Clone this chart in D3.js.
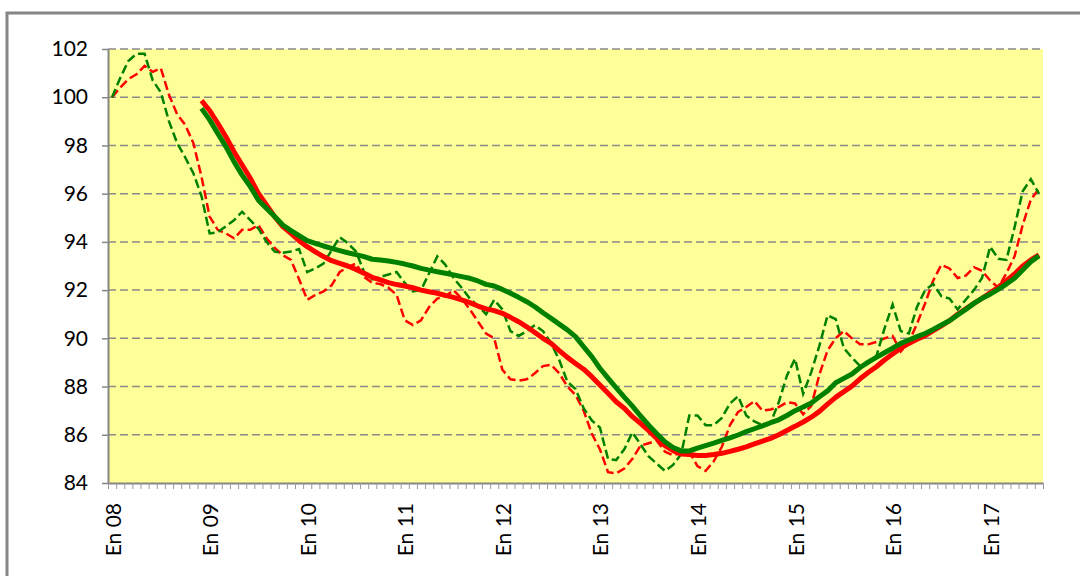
<!DOCTYPE html>
<html>
<head>
<meta charset="utf-8">
<script src="https://cdn.jsdelivr.net/npm/d3@7"></script>
<style>
body {margin:0; background:#ffffff;}
</style>
</head>
<body>
<div id="chart"></div>
<script>

// monthly index, En 08 .. Jul 17
var nMonths = 115;
var yearLabels = ["En 08","En 09","En 10","En 11","En 12","En 13","En 14","En 15","En 16","En 17"];
var yTicks = [84,86,88,90,92,94,96,98,100,102];

var greenDash = [100,100.8,101.5,101.8,101.8,100.7,100.2,99.0,98.1,97.5,96.85,95.9,
	94.35,94.4,94.65,94.9,95.25,94.9,94.55,94.0,93.6,93.55,93.6,93.7,
	92.75,92.9,93.1,93.65,94.2,93.95,93.6,92.75,92.45,92.55,92.65,92.75,
	92.3,91.95,92.0,92.7,93.4,93.05,92.5,92.1,91.65,91.35,91.0,91.6,
	91.2,90.3,90.1,90.3,90.55,90.3,89.8,89.1,88.2,87.9,87.1,86.6,
	86.3,85.0,84.95,85.4,86.1,85.6,85.1,84.8,84.5,84.75,85.2,86.8,
	86.8,86.4,86.4,86.7,87.3,87.6,86.8,86.55,86.4,86.5,87.35,88.45,
	89.15,87.7,88.6,89.7,90.95,90.8,89.6,89.2,88.85,88.95,89.25,90.4,
	91.4,90.3,90.2,91.3,92.0,92.25,91.75,91.65,91.2,91.6,92.0,92.5,
	93.8,93.3,93.25,94.6,96.1,96.6,96.0];

var redDash = [100,100.4,100.75,100.95,101.3,101.05,101.2,100.1,99.3,98.85,98.1,96.7,
	95.05,94.5,94.35,94.15,94.5,94.5,94.7,94.15,93.75,93.45,93.25,92.45,
	91.6,91.8,91.95,92.2,92.75,92.95,93.1,92.55,92.3,92.25,92.1,91.8,
	90.75,90.55,90.75,91.3,91.65,91.75,92.0,91.65,91.2,90.7,90.2,90.0,
	88.7,88.3,88.25,88.3,88.55,88.85,88.9,88.55,88.0,87.65,87.0,86.05,
	85.4,84.45,84.4,84.6,85.0,85.55,85.65,85.75,85.3,85.15,85.25,85.3,
	84.7,84.5,84.9,85.5,86.4,86.95,87.15,87.4,87.0,87.05,87.15,87.35,
	87.3,86.85,87.2,88.5,89.5,90.0,90.3,90.0,89.75,89.75,89.85,90.0,
	90.1,89.45,89.85,90.6,91.45,92.4,93.05,92.9,92.5,92.6,92.95,92.8,
	92.4,92.1,92.7,93.4,94.7,95.75,96.2];

// 12 month averages start in December 08
var avgStart = 11;

var redAvg = [99.86,
	99.45,98.92,98.36,97.74,97.19,96.64,96.01,95.53,95.05,94.63,94.35,94.05,
	93.8,93.59,93.39,93.22,93.11,93.0,92.86,92.7,92.53,92.42,92.31,92.23,
	92.17,92.1,92.0,91.93,91.87,91.78,91.7,91.59,91.48,91.34,91.22,91.15,
	91.04,90.87,90.69,90.48,90.24,90.0,89.79,89.49,89.21,88.96,88.72,88.41,
	88.06,87.72,87.37,87.1,86.75,86.47,86.17,85.85,85.55,85.34,85.2,85.18,
	85.14,85.14,85.18,85.23,85.31,85.4,85.5,85.62,85.74,85.85,86.0,86.18,
	86.35,86.53,86.73,86.97,87.27,87.55,87.79,88.02,88.32,88.58,88.82,89.1,
	89.35,89.59,89.79,89.96,90.11,90.32,90.52,90.73,91.0,91.22,91.45,91.66,
	91.89,92.12,92.39,92.67,93.0,93.25,93.46];

var greenAvg = [99.54,
	99.06,98.5,97.95,97.33,96.77,96.29,95.73,95.39,95.05,94.7,94.47,94.26,
	94.05,93.94,93.83,93.73,93.64,93.55,93.47,93.39,93.28,93.25,93.21,93.15,
	93.08,93.0,92.9,92.83,92.76,92.7,92.63,92.56,92.49,92.38,92.24,92.17,
	92.03,91.87,91.7,91.52,91.31,91.06,90.83,90.59,90.35,90.07,89.65,89.24,
	88.76,88.35,87.95,87.56,87.19,86.78,86.4,86.04,85.71,85.47,85.33,85.33,
	85.45,85.55,85.65,85.77,85.87,85.99,86.13,86.25,86.37,86.5,86.62,86.8,
	87.0,87.15,87.32,87.58,87.82,88.16,88.34,88.52,88.79,89.01,89.21,89.4,
	89.59,89.79,89.93,90.07,90.2,90.37,90.55,90.73,90.97,91.2,91.45,91.66,
	91.83,92.03,92.25,92.49,92.83,93.18,93.42];

var width = 1080, height = 576;
var plot = {left:108, right:1043, top:49, bottom:483};

var svg = d3.select('#chart').append('svg')
	.attr('width',width)
	.attr('height',height)
	.style('display','block');

// outer frame, cut off on the right and bottom
svg.append('rect')
	.attr('x',7)
	.attr('y',13)
	.attr('width',1100)
	.attr('height',620)
	.style('fill','none')
	.style('stroke','#868686')
	.style('stroke-width',3);

var x = d3.scaleBand()
	.domain(d3.range(nMonths))
	.range([plot.left,plot.right])
	.padding(0);

var xEdge = d3.scaleLinear()
	.domain([0,nMonths])
	.range([plot.left,plot.right]);

var y = d3.scaleLinear()
	.domain([84,102])
	.range([plot.bottom,plot.top]);

var cx = function(i){ return x(i) + x.bandwidth()/2; };

svg.append('rect')
	.attr('x',plot.left)
	.attr('y',plot.top)
	.attr('width',plot.right-plot.left)
	.attr('height',plot.bottom-plot.top)
	.style('fill','#FFFF99');

//---gridlines---
svg.append('g').selectAll('line')
	.data(yTicks.slice(1))
	.enter().append('line')
		.attr('x1',plot.left)
		.attr('x2',plot.right)
		.attr('y1',function(d){return y(d);})
		.attr('y2',function(d){return y(d);})
		.style('stroke','#8a8a8a')
		.style('stroke-width',1.5)
		.style('stroke-dasharray','8,4');

//---axes---
var yAxis = svg.append('g')
	.attr('transform','translate('+plot.left+',0)')
	.call(d3.axisLeft(y).tickValues(yTicks).tickSize(6).tickPadding(14).tickSizeOuter(0));

yAxis.select('.domain').style('stroke','#868686').style('stroke-width',2);
yAxis.selectAll('.tick line').style('stroke','#868686').style('stroke-width',1.5);
yAxis.selectAll('.tick text')
	.style('font-family','Lato, "Open Sans", sans-serif')
	.style('font-size','21px')
	.style('fill','#000');

var xAxis = svg.append('g')
	.attr('transform','translate(0,'+plot.bottom+')')
	.call(d3.axisBottom(xEdge).tickValues(d3.range(nMonths+1)).tickFormat('').tickSize(6).tickSizeOuter(0));

xAxis.select('.domain').style('stroke','#868686').style('stroke-width',2);
xAxis.selectAll('.tick line').style('stroke','#9a9a9a').style('stroke-width',1);

svg.append('g').selectAll('text')
	.data(yearLabels)
	.enter().append('text')
		.attr('transform',function(d,i){ return 'translate('+(cx(i*12)+1)+',503) rotate(-90)'; })
		.attr('dy','0.36em')
		.attr('text-anchor','end')
		.style('font-family','Lato, "Open Sans", sans-serif')
		.style('font-size','21px')
		.style('fill','#000')
		.text(function(d){return d;});

//---series---
var line = d3.line()
	.x(function(d){return cx(d[0]);})
	.y(function(d){return y(d[1]);});

function pairs(arr, start){
	return arr.map(function(v,i){ return [i+start, v]; });
}

svg.append('path')
	.attr('d',line(pairs(redDash,0)))
	.style('fill','none')
	.style('stroke','#FF0000')
	.style('stroke-width',2.5)
	.style('stroke-dasharray','9,4');

svg.append('path')
	.attr('d',line(pairs(greenDash,0)))
	.style('fill','none')
	.style('stroke','#008000')
	.style('stroke-width',2.5)
	.style('stroke-dasharray','9,4');

svg.append('path')
	.attr('d',line(pairs(redAvg,avgStart)))
	.style('fill','none')
	.style('stroke','#FF0000')
	.style('stroke-width',5)
	.style('stroke-linejoin','round');

svg.append('path')
	.attr('d',line(pairs(greenAvg,avgStart)))
	.style('fill','none')
	.style('stroke','#008000')
	.style('stroke-width',5)
	.style('stroke-linejoin','round');

</script>
</body>
</html>
